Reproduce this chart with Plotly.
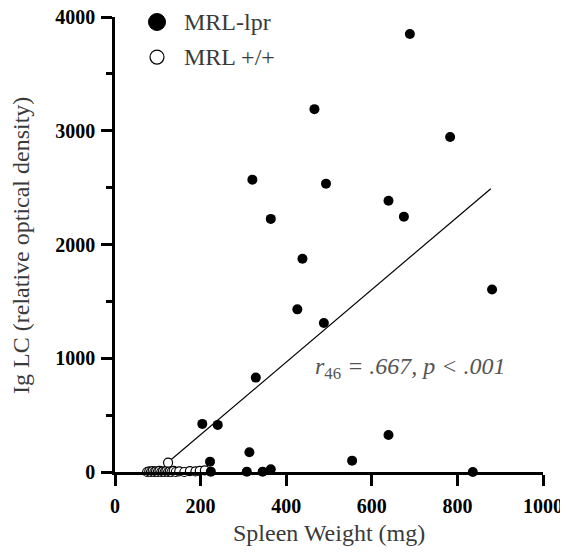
import plotly.graph_objects as go

# MRL-lpr (filled)
lpr_x = [689, 466, 783, 321, 493, 639, 675, 364, 438, 881, 426, 488, 329, 204, 240,
         222, 224, 314, 308, 345, 364, 639, 554, 836]
lpr_y = [3850, 3190, 2945, 2570, 2535, 2385, 2245, 2225, 1875, 1605, 1430, 1310, 830, 423, 414,
         91, 3, 173, 3, 3, 24, 326, 100, 0]

# MRL +/+ (open)
wt_x = [75, 80, 84, 88, 92, 96, 100, 104, 108, 112, 116, 120, 124, 128, 132, 137, 142,
        150, 162, 175, 188, 198, 210, 124]
wt_y = [0, 5, 0, 8, 0, 5, 0, 10, 0, 5, 0, 8, 0, 5, 0, 10, 0, 5, 0, 8, 5, 10, 15, 82]

# regression line
fit_slope = 3.19
fit_intercept = -310
fit_x = [117, 878]
fit_y = [fit_slope * v + fit_intercept for v in fit_x]

x_ticks = [0, 200, 400, 600, 800, 1000]
y_ticks = [0, 1000, 2000, 3000, 4000]

SERIF = "Liberation Serif, Times New Roman, serif"
GRAY = "#3a3a3a"

fig = go.Figure()
fig.add_trace(go.Scatter(x=fit_x, y=fit_y, mode="lines",
                         line=dict(color="black", width=1.2), showlegend=False,
                         hoverinfo="skip"))
fig.add_trace(go.Scatter(x=wt_x, y=wt_y, mode="markers", name="MRL +/+",
                         marker=dict(size=9, color="white", line=dict(color="black", width=1.2)),
                         cliponaxis=False, showlegend=False))
fig.add_trace(go.Scatter(x=lpr_x, y=lpr_y, mode="markers", name="MRL-lpr",
                         marker=dict(size=10, color="black"),
                         cliponaxis=False, showlegend=False))

tickfont = dict(family=SERIF, size=20, color="black")

fig.update_xaxes(range=[0, 1000], tickvals=x_ticks,
                 ticktext=["<b>%d</b>" % v for v in x_ticks],
                 showline=True, linecolor="black", linewidth=2.5,
                 ticks="outside", ticklen=11, tickwidth=2.5, tickcolor="black",
                 showgrid=False, zeroline=False, tickfont=tickfont,
                 ticklabelstandoff=3, automargin=False, ticklabeloverflow="allow")
fig.update_yaxes(range=[0, 4000], tickvals=y_ticks,
                 ticktext=["<b>%d</b>" % v for v in y_ticks],
                 showline=True, linecolor="black", linewidth=2.5,
                 ticks="outside", ticklen=11, tickwidth=2.5, tickcolor="black",
                 minor=dict(dtick=500, ticks="outside", ticklen=6, tickwidth=2.5,
                            tickcolor="black", showgrid=False),
                 showgrid=False, zeroline=False, tickfont=tickfont,
                 ticklabelstandoff=2, automargin=False, ticklabeloverflow="allow")

annotations = [
    dict(text="Spleen Weight (mg)", xref="paper", yref="paper", x=0.5, y=-0.134,
         xanchor="center", yanchor="middle", showarrow=False,
         font=dict(family=SERIF, size=24, color=GRAY)),
    dict(text="Ig LC (relative optical density)", xref="paper", yref="paper",
         x=-0.2196, y=0.497, xanchor="center", yanchor="middle", textangle=-90,
         showarrow=False, font=dict(family=SERIF, size=24, color=GRAY)),
    dict(text="MRL-lpr", xref="paper", yref="paper", x=0.1565, y=0.989,
         xanchor="left", yanchor="middle", showarrow=False,
         font=dict(family=SERIF, size=24, color=GRAY)),
    dict(text="MRL +/+", xref="paper", yref="paper", x=0.1565, y=0.912,
         xanchor="left", yanchor="middle", showarrow=False,
         font=dict(family=SERIF, size=24, color=GRAY)),
    dict(text="<i>r</i><sub>46</sub><i> = .667, p &lt; .001</i>", xref="paper", yref="paper",
         x=(410 - 115) / 428, y=(472 - 368) / 455, xanchor="center", yanchor="middle",
         showarrow=False, font=dict(family=SERIF, size=24, color="#555555")),
]

shapes = [
    dict(type="circle", xref="paper", yref="paper", xsizemode="pixel", ysizemode="pixel",
         xanchor=(157 - 115) / 428, yanchor=0.989, x0=-8.5, x1=8.5, y0=-8.5, y1=8.5,
         fillcolor="black", line=dict(color="black", width=1)),
    dict(type="circle", xref="paper", yref="paper", xsizemode="pixel", ysizemode="pixel",
         xanchor=(157 - 115) / 428, yanchor=0.912, x0=-7, x1=7, y0=-7, y1=7,
         fillcolor="white", line=dict(color="black", width=1.2)),
]

# page body has an 8px default margin, so the figure is 8px smaller on each side
fig.update_layout(width=560, height=550, margin=dict(l=107, r=25, t=9, b=86),
                  paper_bgcolor="white", plot_bgcolor="white",
                  annotations=annotations, shapes=shapes, showlegend=False)

fig.write_html("out.html")
